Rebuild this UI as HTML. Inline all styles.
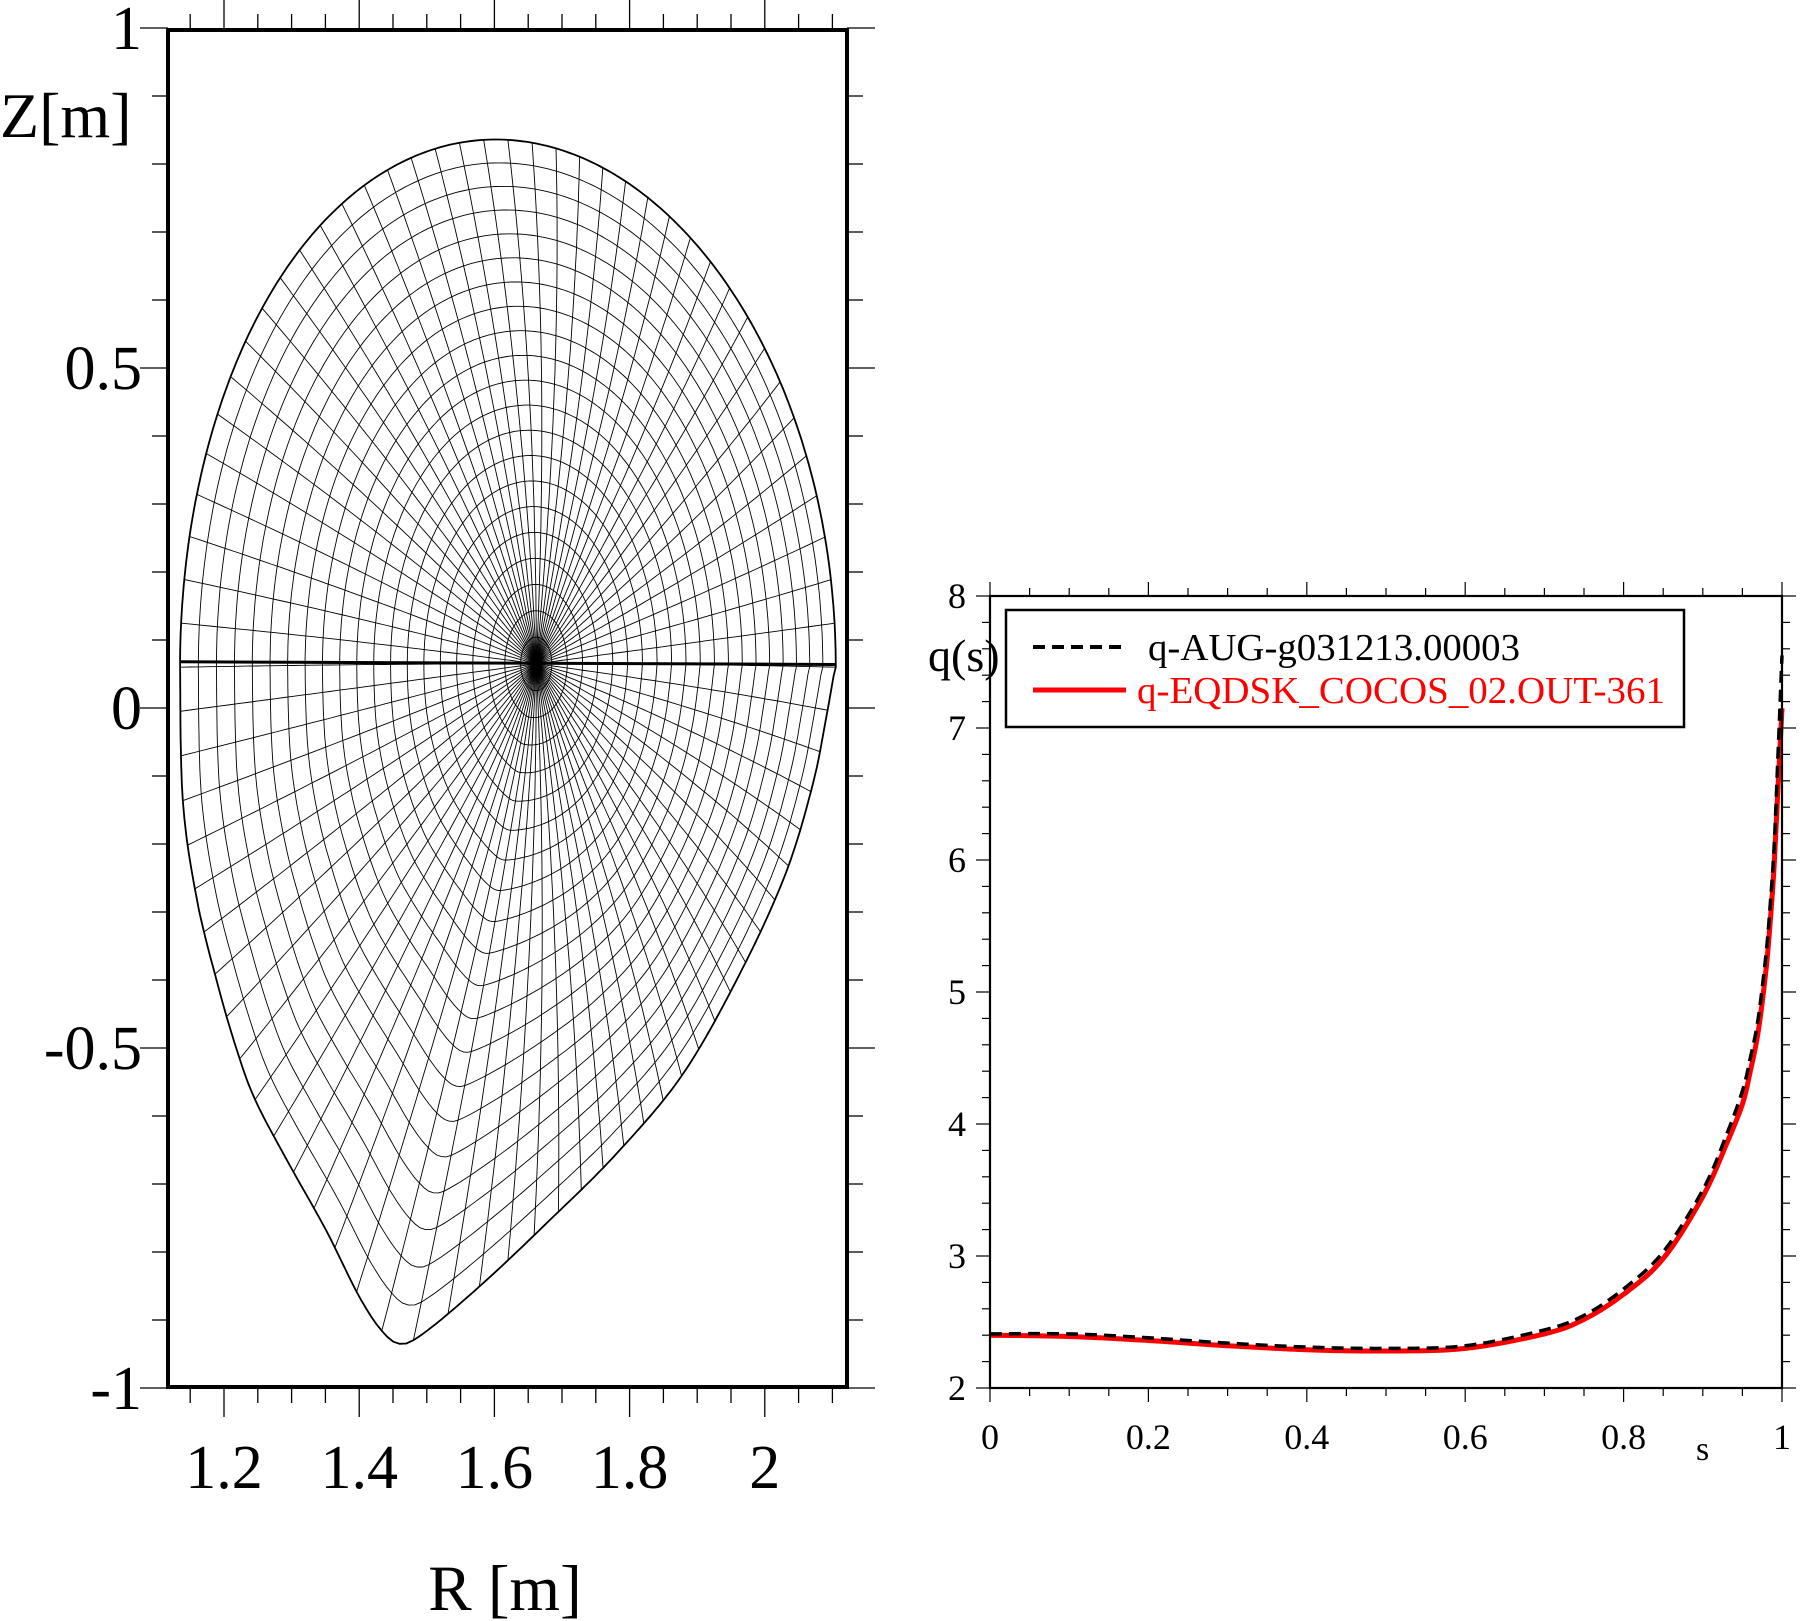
<!DOCTYPE html>
<html><head><meta charset="utf-8"><style>
html,body{margin:0;padding:0;background:#fff;}
svg{display:block;font-family:"Liberation Serif",serif;}
</style></head><body>
<svg id="fig" width="1800" height="1621" viewBox="0 0 1800 1621">
<g id="left"></g>
<g id="right"></g>
</svg>
<script>
// ---- q profile data ----
const sVals   = [0,0.1,0.2,0.3,0.4,0.5,0.6,0.7,0.75,0.8,0.85,0.9,0.93,0.95,0.96,0.97,0.98,0.985,0.99,0.995,1.0];
const qAUG    = [2.41,2.41,2.38,2.34,2.31,2.30,2.32,2.44,2.55,2.75,3.03,3.50,3.92,4.25,4.50,4.80,5.30,5.65,6.1,6.8,7.55];
const qEQDSK  = [2.40,2.39,2.36,2.32,2.29,2.28,2.30,2.41,2.52,2.71,2.98,3.45,3.85,4.15,4.40,4.70,5.18,5.52,5.95,6.55,7.15];
const xTicks  = [0,0.2,0.4,0.6,0.8,1];
const xTickLabels = ["0","0.2","0.4","0.6","0.8","1"];
const yTicks  = [2,3,4,5,6,7,8];
const yTickLabels = ["2","3","4","5","6","7","8"];
// ---- equilibrium shape data ----
const rTicks = [1.2,1.4,1.6,1.8,2.0];
const rTickLabels = ["1.2","1.4","1.6","1.8","2"];
const zTicks = [-1,-0.5,0,0.5,1];
const zTickLabels = ["-1","-0.5","0","0.5","1"];
const upperParams = [1.62,0.485,0.06,1.60,0.037]; // R0,a,Zc,kappa,delta (upper half)
const lowerR = [1.135,1.139,1.160,1.190,1.219,1.246,1.292,1.351,1.397,1.431,1.460,1.496,1.582,1.681,1.780,1.879,1.965,2.031,2.071,2.091,2.104];
const lowerZ = [0.06,-0.135,-0.282,-0.404,-0.503,-0.576,-0.663,-0.768,-0.860,-0.913,-0.935,-0.919,-0.847,-0.754,-0.656,-0.538,-0.387,-0.243,-0.112,-0.013,0.06];
const magAxis = [1.662,0.065];

const NS="http://www.w3.org/2000/svg";
function mk(parent,tag,attrs){const e=document.createElementNS(NS,tag);for(const k in attrs)e.setAttribute(k,attrs[k]);parent.appendChild(e);return e;}

// ===== LEFT PLOT =====
const L=document.getElementById('left');
const fx=168, fx2=847, fy=30, fy2=1387;
const Rx=r=>224+(r-1.2)*676;
const Zy=z=>708-z*680;
const KE=1.7;
const [R0,A0,Zc]=upperParams;
// boundary samples
const bnd=[];
{const k=upperParams[3], d=upperParams[4];
 for(let j=0;j<=200;j++){const th=Math.PI*j/200;const s=Math.sin(th);bnd.push([R0+A0*Math.cos(th+d*s), Zc+k*A0*s]);}
 const n=lowerR.length;
 const P=i=>[lowerR[Math.max(0,Math.min(n-1,i))],lowerZ[Math.max(0,Math.min(n-1,i))]];
 for(let i=0;i<n-1;i++){for(let m=0;m<12;m++){const t=m/12;
   const p0=P(i-1),p1=P(i),p2=P(i+1),p3=P(i+2);
   const cr=(a0,a1,a2,a3)=>0.5*((2*a1)+(-a0+a2)*t+(2*a0-5*a1+4*a2-a3)*t*t+(-a0+3*a1-3*a2+a3)*t*t*t);
   bnd.push([cr(p0[0],p1[0],p2[0],p3[0]),cr(p0[1],p1[1],p2[1],p3[1])]);}}
}
// polar table (scaled coordinates)
const polar=bnd.map(p=>{const dx=p[0]-R0,dz=(p[1]-Zc)/KE;let ph=Math.atan2(dz,dx);if(ph<0)ph+=2*Math.PI;return [ph,Math.hypot(dx,dz)];}).sort((a,b)=>a[0]-b[0]);
function rB(ph){
  ph=((ph%(2*Math.PI))+2*Math.PI)%(2*Math.PI);
  const n=polar.length;
  for(let i=0;i<n;i++){const a=polar[i],b=polar[(i+1)%n];let pb=b[0];if(i===n-1)pb+=2*Math.PI;
    let q=ph; if(i===n-1&&q<a[0])q+=2*Math.PI;
    if(q>=a[0]&&q<=pb){const t=(q-a[0])/((pb-a[0])||1);return a[1]+(b[1]-a[1])*t;}}
  return polar[0][1];
}
function surf(rho,ph){
  const w=rho;
  const r=rho*((1-w)*A0+w*rB(ph));
  const cR=magAxis[0]+(R0-magAxis[0])*rho*rho, cZ=magAxis[1]+(Zc-magAxis[1])*rho*rho;
  return [cR+r*Math.cos(ph), cZ+KE*r*Math.sin(ph)];
}
const gridG=mk(L,'g',{stroke:'#000','stroke-width':'0.9',fill:'none'});


const NT=80, NR=21, NPH=400;
for(let i=1;i<=NR;i++){
  const rho=i/NR;let d='';
  for(let j=0;j<NPH;j++){const p=surf(rho,2*Math.PI*j/NPH);d+=(j?'L':'M')+Rx(p[0]).toFixed(1)+','+Zy(p[1]).toFixed(1);}
  const e=mk(gridG,'path',{d:d+'Z','stroke-width':i===NR?'1.8':'0.9'});
  
  
}
for(let j=0;j<NT;j++){
  const ph=2*Math.PI*j/NT;let d='';
  for(let i=0;i<=40;i++){const p=surf(i/40,ph);d+=(i?'L':'M')+Rx(p[0]).toFixed(1)+','+Zy(p[1]).toFixed(1);}
  const e=mk(gridG,'path',{d:d});
  
  
}
{const e=mk(L,'line',{x1:Rx(1.136),y1:Zy(0.068),x2:Rx(2.104),y2:Zy(0.064),stroke:'#000','stroke-width':'3'});
}
const tk=mk(L,'g',{stroke:'#000','stroke-width':'1.3'});
for(let v=1.15;v<=2.101;v+=0.05){const x=Rx(v);const maj=Math.abs(v*5-Math.round(v*5))<1e-6;
  mk(tk,'line',{x1:x,y1:fy2,x2:x,y2:fy2+(maj?30:16)});mk(tk,'line',{x1:x,y1:fy,x2:x,y2:fy-(maj?30:16)});}
for(let k=-10;k<=10;k++){const y=Zy(k/10);const maj=k%5===0;
  mk(tk,'line',{x1:fx,y1:y,x2:fx-(maj?28:16),y2:y});mk(tk,'line',{x1:fx2,y1:y,x2:fx2+(maj?28:16),y2:y});}
{const e=mk(L,'rect',{x:fx,y:fy,width:fx2-fx,height:fy2-fy,fill:'none',stroke:'#000','stroke-width':'4'});
}
rTicks.forEach((v,i)=>{const t=mk(L,'text',{x:Rx(v),y:1488,'font-size':'62','text-anchor':'middle'});t.textContent=rTickLabels[i];
  });
zTicks.forEach((v,i)=>{const t=mk(L,'text',{x:142,y:Zy(v)+21,'font-size':'62','text-anchor':'end'});t.textContent=zTickLabels[i];
  });
{const t=mk(L,'text',{x:505,y:1610,'font-size':'65','text-anchor':'middle'});t.textContent='R [m]';
}
{const t=mk(L,'text',{x:0,y:137,'font-size':'64'});t.textContent='Z[m]';
}

// ===== RIGHT PLOT =====
const Rg=document.getElementById('right');
const px=990, px2=1782, py=596, py2=1388;
const sx=s=>px+s*(px2-px);
const qy=q=>py2-(q-2)*(py2-py)/6;
const tk2=mk(Rg,'g',{stroke:'#000','stroke-width':'1.2'});
for(let k=0;k<=20;k++){const x=sx(k/20);const maj=k%4===0;
  mk(tk2,'line',{x1:x,y1:py2,x2:x,y2:py2+(maj?14:8)});mk(tk2,'line',{x1:x,y1:py,x2:x,y2:py-(maj?14:8)});}
for(let k=0;k<=30;k++){const y=qy(2+k*0.2);const maj=k%5===0;
  mk(tk2,'line',{x1:px,y1:y,x2:px-(maj?14:8),y2:y});mk(tk2,'line',{x1:px2,y1:y,x2:px2+(maj?14:8),y2:y});}
function smoothPath(xs,ys){
  const P=xs.map((s,i)=>[sx(s),qy(ys[i])]);let d='M'+P[0][0].toFixed(1)+','+P[0][1].toFixed(1);
  for(let i=0;i<P.length-1;i++){
    const p0=P[Math.max(0,i-1)],p1=P[i],p2=P[i+1],p3=P[Math.min(P.length-1,i+2)];
    const c1=[p1[0]+(p2[0]-p0[0])/6,p1[1]+(p2[1]-p0[1])/6];
    const c2=[p2[0]-(p3[0]-p1[0])/6,p2[1]-(p3[1]-p1[1])/6];
    d+='C'+c1.map(v=>v.toFixed(1)).join(',')+' '+c2.map(v=>v.toFixed(1)).join(',')+' '+p2.map(v=>v.toFixed(1)).join(',');
  }
  return d;
}
{const e=mk(Rg,'path',{d:smoothPath(sVals,qEQDSK),fill:'none',stroke:'#ff0000','stroke-width':'5'});
}
{const e=mk(Rg,'path',{d:smoothPath(sVals,qAUG),fill:'none',stroke:'#000','stroke-width':'3.5','stroke-dasharray':'12 7'});
}
{const e=mk(Rg,'rect',{x:px,y:py,width:px2-px,height:py2-py,fill:'none',stroke:'#000','stroke-width':'2.2'});
}
xTicks.forEach((v,i)=>{const t=mk(Rg,'text',{x:sx(v),y:1449,'font-size':'36','text-anchor':'middle'});t.textContent=xTickLabels[i];
  });
yTicks.forEach((v,i)=>{const t=mk(Rg,'text',{x:966,y:qy(v)+12,'font-size':'36','text-anchor':'end'});t.textContent=yTickLabels[i];
  });
{const t=mk(Rg,'text',{x:928,y:671,'font-size':'46'});t.textContent='q(s)';
}
{const t=mk(Rg,'text',{x:1696,y:1460,'font-size':'34'});t.textContent='s';
}
const lg=mk(Rg,'g',{});


mk(lg,'rect',{x:1006,y:610,width:678,height:117,fill:'#fff',stroke:'#000','stroke-width':'2.5'});
{const e=mk(lg,'line',{x1:1033,y1:647,x2:1126,y2:647,stroke:'#000','stroke-width':'4','stroke-dasharray':'12 7'});
}
{const e=mk(lg,'line',{x1:1033,y1:690,x2:1126,y2:690,stroke:'#ff0000','stroke-width':'5'});
}
{const t=mk(lg,'text',{x:1148,y:660,'font-size':'38',textLength:'372',lengthAdjust:'spacingAndGlyphs'});t.textContent='q-AUG-g031213.00003';
}
{const t=mk(lg,'text',{x:1137,y:703,'font-size':'38',fill:'#ff0000',textLength:'528',lengthAdjust:'spacingAndGlyphs'});t.textContent='q-EQDSK_COCOS_02.OUT-361';
}
</script>
</body></html>
